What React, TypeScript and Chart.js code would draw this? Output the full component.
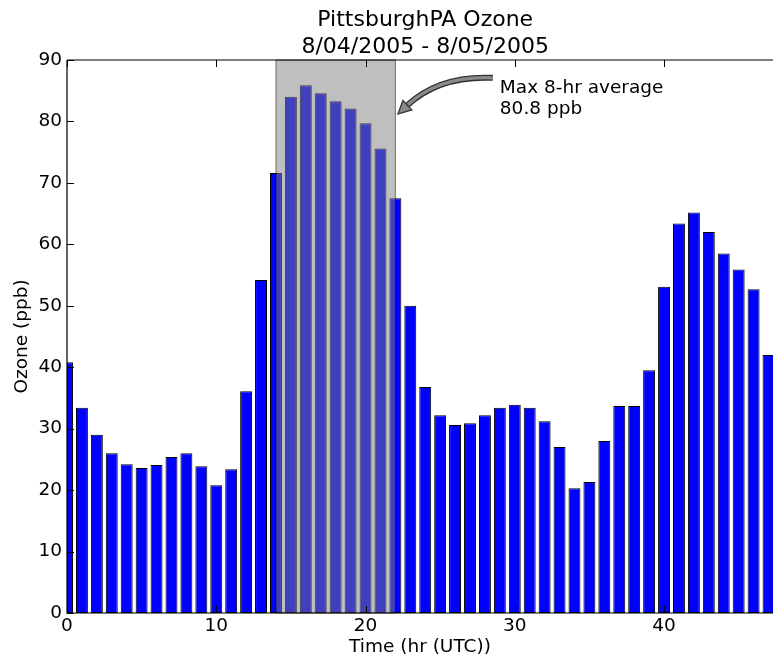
import React, { useEffect, useRef } from "react";
import { Chart, registerables } from "chart.js";

Chart.register(...registerables);

// ---- data ----
const hours = [
  0, 1, 2, 3, 4, 5, 6, 7, 8, 9, 10, 11, 12, 13, 14, 15, 16, 17, 18, 19, 20, 21, 22, 23,
  24, 25, 26, 27, 28, 29, 30, 31, 32, 33, 34, 35, 36, 37, 38, 39, 40, 41, 42, 43, 44, 45, 46, 47,
];
const ozone = [
  40.8, 33.4, 29.0, 26.0, 24.2, 23.6, 24.1, 25.4, 26.0, 23.9, 20.8, 23.4,
  36.1, 54.2, 71.6, 84.0, 85.9, 84.6, 83.3, 82.1, 79.7, 75.6, 67.5, 50.0,
  36.8, 32.2, 30.6, 30.9, 32.2, 33.4, 33.9, 33.4, 31.2, 27.0, 20.3, 21.3,
  28.0, 33.7, 33.7, 39.5, 53.1, 63.4, 65.2, 62.0, 58.5, 55.9, 52.7, 42.0,
];
const xTickValues = [0, 10, 20, 30, 40];
const yTickValues = [0, 10, 20, 30, 40, 50, 60, 70, 80, 90];
const titleLines = ["PittsburghPA Ozone", "8/04/2005 - 8/05/2005"];
const xTitle = "Time (hr (UTC))";
const yTitle = "Ozone (ppb)";
const windowStart = 14;
const windowEnd = 22;
const maxAverage = 80.8;
const annotationLines = ["Max 8-hr average", "80.8 ppb"];
const annotationAnchor = [29, 84];
const axisCenterHour = 24;

const FONT = '"DejaVu Sans", sans-serif';
const W = 773;
const H = 658;

const overlayPlugin = {
  id: "overlay",
  afterDatasetsDraw(chart: any) {
    const { ctx, chartArea: a } = chart;
    const xs = chart.scales.x;
    const ys = chart.scales.y;
    ctx.save();

    // shaded 8-hour window
    const x0 = xs.getPixelForValue(windowStart);
    const x1 = xs.getPixelForValue(windowEnd);
    ctx.fillStyle = "rgba(128,128,128,0.5)";
    ctx.fillRect(x0, a.top, x1 - x0, a.bottom - a.top);
    ctx.strokeStyle = "rgba(0,0,0,0.5)";
    ctx.lineWidth = 1;
    ctx.strokeRect(x0, a.top, x1 - x0, a.bottom - a.top);

    // spines
    ctx.strokeStyle = "#000";
    ctx.lineWidth = 1.2;
    ctx.beginPath();
    ctx.moveTo(a.left, a.top);
    ctx.lineTo(a.right, a.top);
    ctx.moveTo(a.left, a.top);
    ctx.lineTo(a.left, a.bottom);
    ctx.lineTo(a.right, a.bottom);
    ctx.stroke();

    // inward ticks
    ctx.lineWidth = 1;
    ctx.beginPath();
    const tl = 7;
    yTickValues.forEach((v) => {
      const py = Math.round(ys.getPixelForValue(v)) + 0.5;
      ctx.moveTo(a.left, py);
      ctx.lineTo(a.left + tl, py);
    });
    xTickValues.forEach((v) => {
      const px = Math.round(xs.getPixelForValue(v)) + 0.5;
      ctx.moveTo(px, a.bottom);
      ctx.lineTo(px, a.bottom - tl);
      ctx.moveTo(px, a.top);
      ctx.lineTo(px, a.top + tl);
    });
    ctx.stroke();

    // title
    const cx = xs.getPixelForValue(axisCenterHour);
    ctx.fillStyle = "#000";
    ctx.font = `22px ${FONT}`;
    ctx.textAlign = "center";
    ctx.textBaseline = "alphabetic";
    ctx.fillText(titleLines[0], cx, 25.5);
    ctx.fillText(titleLines[1], cx, 52.5);

    // annotation text
    const ax = xs.getPixelForValue(annotationAnchor[0]);
    const ay = ys.getPixelForValue(annotationAnchor[1]);
    ctx.font = `18.5px ${FONT}`;
    ctx.textAlign = "left";
    ctx.fillText(annotationLines[0], ax, ay - 3.4);
    ctx.fillText(annotationLines[1], ax, ay + 17.4);

    // curved arrow
    const tx = xs.getPixelForValue(windowEnd);
    const ty = ys.getPixelForValue(maxAverage);
    const sx = ax - 7;
    const sy = ay - 19;
    const dx = tx - sx;
    const dy = ty - sy;
    const qx = (sx + tx) / 2 - 0.2 * dy;
    const qy = (sy + ty) / 2 + 0.2 * dx;
    let ux = tx - qx;
    let uy = ty - qy;
    const ul = Math.hypot(ux, uy);
    ux /= ul;
    uy /= ul;
    const tipX = tx - 3.5 * ux;
    const tipY = ty - 3.5 * uy;
    const headLen = 13;
    const headHalf = 6.5;
    const bx = tipX - headLen * ux;
    const by = tipY - headLen * uy;
    const qx2 = qx - 3.5 * ux;
    const qy2 = qy - 3.5 * uy;

    ctx.lineCap = "butt";
    ctx.beginPath();
    ctx.moveTo(sx, sy);
    ctx.quadraticCurveTo(qx2, qy2, bx + ux, by + uy);
    ctx.strokeStyle = "#333";
    ctx.lineWidth = 6;
    ctx.stroke();
    ctx.strokeStyle = "#8a8a8a";
    ctx.lineWidth = 3.4;
    ctx.stroke();

    ctx.beginPath();
    ctx.moveTo(tipX, tipY);
    ctx.lineTo(bx - uy * headHalf, by + ux * headHalf);
    ctx.lineTo(bx + uy * headHalf, by - ux * headHalf);
    ctx.closePath();
    ctx.fillStyle = "#8a8a8a";
    ctx.fill();
    ctx.strokeStyle = "#333";
    ctx.lineWidth = 1.3;
    ctx.stroke();

    ctx.restore();
  },
};

export default function App() {
  const ref = useRef<HTMLCanvasElement | null>(null);

  useEffect(() => {
    if (!ref.current) return;
    const chart = new Chart(ref.current, {
      type: "bar",
      data: {
        datasets: [
          {
            data: hours.map((h, i) => ({ x: h, y: ozone[i] })),
            backgroundColor: "#0000ff",
            borderColor: "#000000",
            borderWidth: 1,
            borderSkipped: false,
            categoryPercentage: 1,
            barPercentage: 0.8,
            clip: 0,
          } as any,
        ],
      },
      options: {
        responsive: false,
        animation: false,
        events: [],
        layout: { padding: { top: 60, left: 0, right: 0, bottom: 0 } },
        plugins: {
          legend: { display: false },
          tooltip: { enabled: false },
          title: { display: false },
        },
        scales: {
          x: {
            type: "linear",
            min: 0,
            max: 47.3,
            offset: false,
            grid: { display: false, drawTicks: false, offset: false },
            border: { display: false },
            afterBuildTicks: (scale: any) => {
              scale.ticks = xTickValues.map((v) => ({ value: v }));
            },
            afterFit: (scale: any) => {
              scale.height = 45;
            },
            ticks: {
              autoSkip: false,
              maxRotation: 0,
              padding: 2,
              color: "#000",
              font: { family: FONT, size: 18.5 },
              callback: (v: any) => String(v),
            },
            title: {
              display: true,
              text: xTitle,
              color: "#000",
              font: { family: FONT, size: 18.5 },
              padding: { top: 0, bottom: 0 },
            },
          },
          y: {
            type: "linear",
            min: 0,
            max: 90,
            grid: { display: false, drawTicks: false },
            border: { display: false },
            afterBuildTicks: (scale: any) => {
              scale.ticks = yTickValues.map((v) => ({ value: v }));
            },
            afterFit: (scale: any) => {
              scale.width = 67;
            },
            ticks: {
              padding: 5,
              color: "#000",
              font: { family: FONT, size: 18.5 },
              callback: (v: any) => String(v),
            },
            title: {
              display: true,
              text: yTitle,
              color: "#000",
              font: { family: FONT, size: 18.5 },
              padding: { top: 11, bottom: 0 },
            },
          },
        },
      } as any,
      plugins: [overlayPlugin],
    });
    return () => chart.destroy();
  }, []);

  return (
    <div
      style={{
        position: "fixed",
        left: 0,
        top: 0,
        width: W,
        height: H,
        overflow: "hidden",
        background: "#fff",
      }}
    >
      <canvas ref={ref} width={W} height={H} style={{ display: "block", width: W, height: H }} />
    </div>
  );
}
